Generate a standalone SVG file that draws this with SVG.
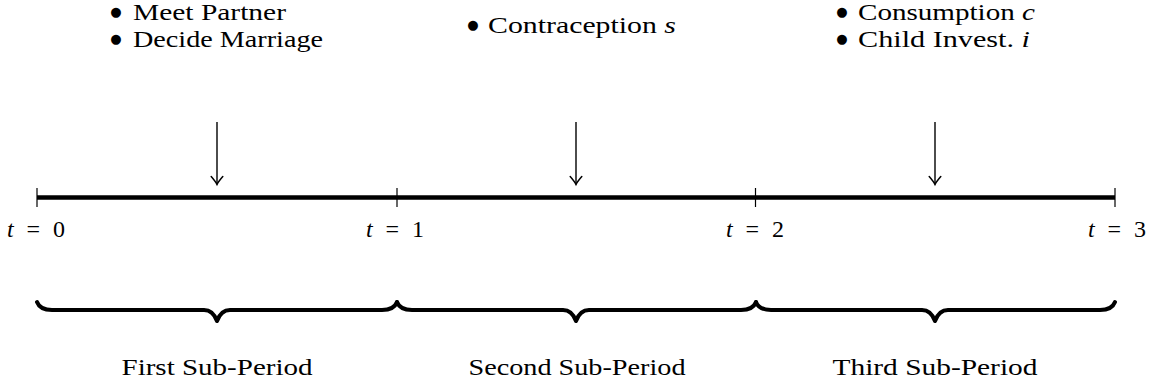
<svg xmlns="http://www.w3.org/2000/svg" width="1153" height="387" viewBox="0 0 1153 387">
  <style>
    .txt { font-family: "Liberation Serif", "Times New Roman", serif; font-size: 23.5px; fill: #000; }
    .sub { font-family: "Liberation Serif", "Times New Roman", serif; font-size: 23px; fill: #000; text-anchor: middle; }
    .tl { font-family: "Liberation Serif", "Times New Roman", serif; font-size: 24px; fill: #000; text-anchor: middle; }
    .it { font-style: italic; }
    .bul { font-family: "DejaVu Sans", sans-serif; font-size: 13px; fill: #000; text-anchor: middle; }
    .axis { stroke: #000; stroke-width: 4.5; fill: none; }
    .tick { stroke: #000; stroke-width: 1.2; }
    .arrow { stroke: #000; stroke-width: 1.4; fill: none; marker-end: url(#to); }
    .brace { stroke: #000; stroke-width: 4; fill: none; stroke-linecap: round; stroke-linejoin: round; }
  </style>
  <defs>
    <marker id="to" markerUnits="userSpaceOnUse" viewBox="-8 -8 16 16" markerWidth="16" markerHeight="16" refX="0" refY="0" orient="auto" overflow="visible">
      <path d="M -8,-5.8 Q -2.8,-1.3 0,0 Q -2.8,1.3 -8,5.8" fill="none" stroke="#000" stroke-width="1.5" stroke-linecap="round"/>
    </marker>
  </defs>

  <g id="timeline">
    <line class="axis" x1="37" y1="197.5" x2="1115" y2="197.5"/>
    <line class="tick" x1="37" y1="188" x2="37" y2="207"/>
    <line class="tick" x1="397" y1="188" x2="397" y2="207"/>
    <line class="tick" x1="755.5" y1="188" x2="755.5" y2="207"/>
    <line class="tick" x1="1115" y1="188" x2="1115" y2="207"/>
  </g>

  <g id="connectors">
    <line class="arrow" x1="217" y1="122" x2="217" y2="184.5"/>
    <line class="arrow" x1="576" y1="122" x2="576" y2="184.5"/>
    <line class="arrow" x1="935" y1="122" x2="935" y2="184.5"/>
  </g>

  <g id="node-first">
    <text class="bul" x="116" y="16">●</text>
    <text class="txt" x="133" y="20" textLength="153" lengthAdjust="spacingAndGlyphs">Meet Partner</text>
    <text class="bul" x="116" y="43">●</text>
    <text class="txt" x="133" y="47" textLength="190" lengthAdjust="spacingAndGlyphs">Decide Marriage</text>
  </g>

  <g id="node-second">
    <text class="bul" x="473" y="29">●</text>
    <text class="txt" x="488" y="33" textLength="188" lengthAdjust="spacingAndGlyphs">Contraception <tspan class="it">s</tspan></text>
  </g>

  <g id="node-third">
    <text class="bul" x="842" y="16">●</text>
    <text class="txt" x="858" y="20" textLength="177" lengthAdjust="spacingAndGlyphs">Consumption <tspan class="it">c</tspan></text>
    <text class="bul" x="842" y="43">●</text>
    <text class="txt" x="858" y="47" textLength="172" lengthAdjust="spacingAndGlyphs">Child Invest. <tspan class="it">i</tspan></text>
  </g>

  <g id="time-labels">
    <text class="tl" x="36" y="237" textLength="58" lengthAdjust="spacing"><tspan class="it">t</tspan> = 0</text>
    <text class="tl" x="395" y="237" textLength="58" lengthAdjust="spacing"><tspan class="it">t</tspan> = 1</text>
    <text class="tl" x="755" y="237" textLength="58" lengthAdjust="spacing"><tspan class="it">t</tspan> = 2</text>
    <text class="tl" x="1117" y="237" textLength="58" lengthAdjust="spacing"><tspan class="it">t</tspan> = 3</text>
  </g>

  <g id="brace-first">
    <path class="brace" d="M 37,302 Q 40,310 52,310 L 204,310 Q 213,310 217,321 Q 221,310 230,310 L 382,310 Q 394,310 397,302"/>
    <text class="sub" x="217" y="375" textLength="191" lengthAdjust="spacingAndGlyphs">First Sub-Period</text>
  </g>
  <g id="brace-second">
    <path class="brace" d="M 397,302 Q 400,310 412,310 L 563,310 Q 572,310 576,321 Q 580,310 589,310 L 741,310 Q 753,310 756,302"/>
    <text class="sub" x="577" y="375" textLength="217" lengthAdjust="spacingAndGlyphs">Second Sub-Period</text>
  </g>
  <g id="brace-third">
    <path class="brace" d="M 756,302 Q 759,310 771,310 L 922,310 Q 931,310 935,321 Q 939,310 948,310 L 1100,310 Q 1112,310 1115,302"/>
    <text class="sub" x="935" y="375" textLength="205" lengthAdjust="spacingAndGlyphs">Third Sub-Period</text>
  </g>
</svg>
